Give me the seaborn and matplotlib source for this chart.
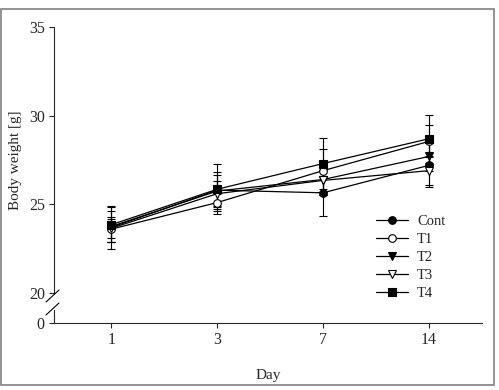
import matplotlib
matplotlib.use("Agg")
import matplotlib.pyplot as plt
import matplotlib.patches as patches
from matplotlib.lines import Line2D
import seaborn as sns
import pandas as pd

# data (mean +/- error)
days = ["1", "3", "7", "14"]
groups = ["Cont", "T1", "T2", "T3", "T4"]
cont = [23.70, 25.80, 25.65, 27.20]
t1 = [23.60, 25.10, 26.90, 28.55]
t2 = [23.75, 25.75, 26.40, 27.70]
t3 = [23.65, 25.60, 26.35, 26.90]
t4 = [23.85, 25.85, 27.30, 28.70]
cont_err = [1.20, 1.05, 1.30, 1.25]
t1_err = [0.70, 0.50, 1.20, 0.90]
t2_err = [0.85, 0.90, 0.90, 0.80]
t3_err = [0.55, 0.70, 0.80, 0.80]
t4_err = [1.00, 1.40, 1.45, 1.35]

means = {"Cont": cont, "T1": t1, "T2": t2, "T3": t3, "T4": t4}
errs = {"Cont": cont_err, "T1": t1_err, "T2": t2_err, "T3": t3_err, "T4": t4_err}
styles = {"Cont": ("o", "black"), "T1": ("o", "white"), "T2": ("v", "black"),
          "T3": ("v", "white"), "T4": ("s", "black")}

rows = []
for g in groups:
    for d, m, e in zip(days, means[g], errs[g]):
        rows.append({"Day": d, "Group": g, "Weight": m, "Err": e})
df = pd.DataFrame(rows)

sns.set_theme(style="ticks")
plt.rcParams["font.family"] = ["Liberation Serif", "DejaVu Serif"]
plt.rcParams["font.size"] = 11

W, H = 499, 390
fig = plt.figure(figsize=(W / 100, H / 100), dpi=100)

x0, x1 = 54 / W, 482 / W
ax = fig.add_axes([x0, 1 - 293 / H, x1 - x0, (293 - 27) / H])
axb = fig.add_axes([x0, 1 - 323 / H, x1 - x0, (323 - 310) / H])

handles = []
for g in groups:
    sub = df[df["Group"] == g]
    mk, fc = styles[g]
    ax.errorbar(sub["Day"], sub["Weight"], yerr=sub["Err"], fmt="none",
                ecolor="black", elinewidth=0.8, capsize=3, capthick=0.8, zorder=2)
    sns.lineplot(data=sub, x="Day", y="Weight", ax=ax, color="black", lw=0.9,
                 marker=mk, ms=5.5, mfc=fc, mec="black", mew=0.8, zorder=3,
                 legend=False)
    handles.append(Line2D([], [], color="black", lw=0.9, marker=mk, ms=5.5,
                          mfc=fc, mec="black", mew=0.8, label=g))

ax.set_xlim(-0.54, 3.5)
ax.set_ylim(20, 35)
ax.set_yticks([20, 25, 30, 35])
ax.set_xticks([])
ax.set_xlabel("")
ax.set_ylabel("Body weight [g]", fontsize=11, labelpad=5)
for s in ["top", "right", "bottom"]:
    ax.spines[s].set_visible(False)
ax.tick_params(axis="y", direction="out", length=3.5, width=0.8, labelsize=11.5, pad=3)
ax.spines["left"].set_linewidth(0.8)

axb.set_xlim(-0.54, 3.5)
axb.set_ylim(0, 1)
axb.set_yticks([0])
axb.set_xticks(range(len(days)), days)
for s in ["top", "right"]:
    axb.spines[s].set_visible(False)
axb.spines["left"].set_linewidth(0.8)
axb.spines["bottom"].set_linewidth(0.8)
axb.tick_params(axis="both", direction="out", length=3.5, width=0.8, labelsize=11.5)
axb.tick_params(axis="x", pad=3)
axb.set_xlabel("Day", fontsize=11, labelpad=15)
axb.patch.set_alpha(0)

# axis break marks
for yc in (296, 309):
    fig.add_artist(Line2D([(x0 * W - 8) / W, (x0 * W + 5) / W],
                          [1 - (yc + 6) / H, 1 - (yc - 6) / H],
                          color="black", lw=0.8))

ax.legend(handles=handles, loc="upper left", frameon=False,
          bbox_to_anchor=(363 / W, 1 - 202 / H), bbox_transform=fig.transFigure,
          handlelength=2.2, labelspacing=0.32, handletextpad=0.6, fontsize=10.5)

fig.add_artist(patches.Rectangle((1 / W, 1 - 385 / H), 493 / W, 376 / H,
                                 fill=False, edgecolor="#808080", lw=1.2,
                                 transform=fig.transFigure))

fig.savefig("out.png", dpi=100)
